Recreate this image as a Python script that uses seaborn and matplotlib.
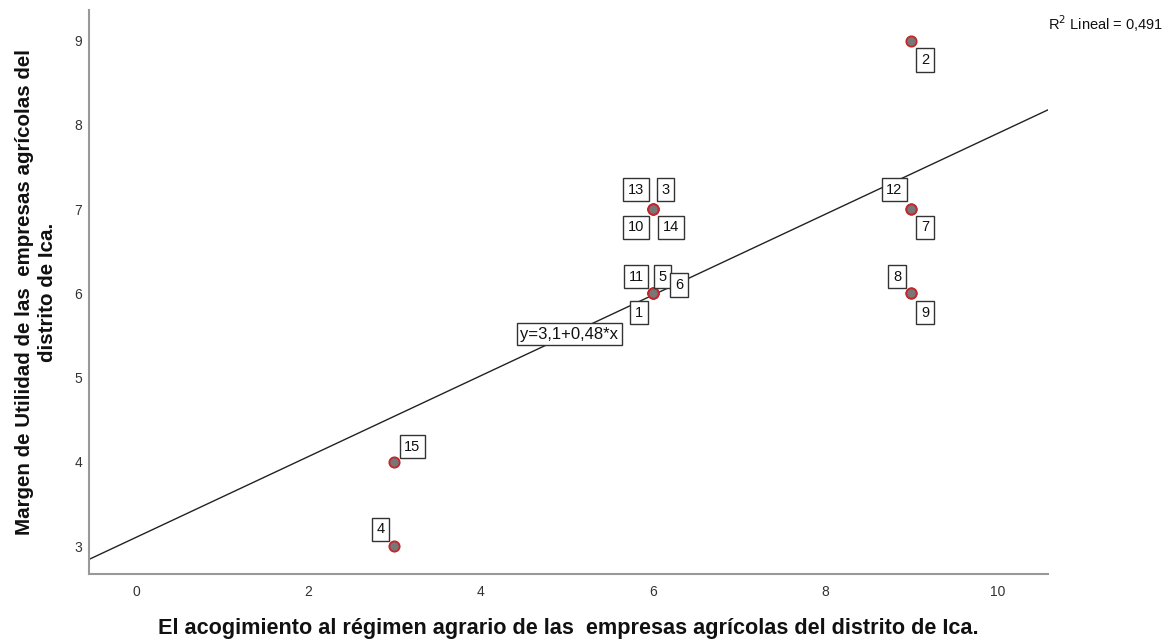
import numpy as np
import pandas as pd
import matplotlib
matplotlib.use("Agg")
import matplotlib.pyplot as plt
import seaborn as sns

# Case data: régimen agrario score (x) vs margen de utilidad (y)
case_ids = [1, 2, 3, 4, 5, 6, 7, 8, 9, 10, 11, 12, 13, 14, 15]
regimen = [6, 9, 6, 3, 6, 6, 9, 9, 9, 6, 6, 9, 6, 6, 3]
margen = [6, 9, 7, 3, 6, 6, 7, 6, 6, 7, 6, 7, 7, 7, 4]

x_ticks = [0, 2, 4, 6, 8, 10]
y_ticks = [3, 4, 5, 6, 7, 8, 9]

x_label = "El acogimiento al régimen agrario de las  empresas agrícolas del distrito de Ica."
y_label = "Margen de Utilidad de las  empresas agrícolas del\ndistrito de Ica."

df = pd.DataFrame({"caso": case_ids, "x": regimen, "y": margen})

sns.set_theme(style="white")
plt.rcParams["font.family"] = ["Liberation Sans", "DejaVu Sans"]

fig = plt.figure(figsize=(11.71, 6.42), dpi=100)
ax = fig.add_axes([0.076, 0.106, 0.819, 0.878])
ax.set_xlim(-0.546, 10.59)
ax.set_ylim(2.67, 9.36)

# Fit line spanning the whole axis
sns.regplot(data=df, x="x", y="y", scatter=False, ci=None, truncate=False,
            line_kws=dict(color="#222222", lw=1.0), ax=ax)

sns.scatterplot(data=df, x="x", y="y", s=55, color="#777777",
                edgecolor="#c0282d", linewidth=1.3, zorder=4, ax=ax)

box = dict(boxstyle="square,pad=0.32", fc="white", ec="#333333", lw=1.0)

# Case-number tags (offsets in points from each point)
offsets = {
    1: (-10, -14), 2: (10, -14), 3: (9, 14), 4: (-10, 12), 5: (7, 12),
    6: (19, 6), 7: (10, -13), 8: (-10, 12), 9: (10, -14), 10: (-12, -13),
    11: (-12, 12), 12: (-12, 14), 13: (-12, 14), 14: (13, -13), 15: (13, 11),
}
for cid, xv, yv in zip(case_ids, regimen, margen):
    dx, dy = offsets[cid]
    ax.annotate(str(cid), (xv, yv), xytext=(dx, dy), textcoords="offset points",
                ha="center", va="center", fontsize=10.5, color="#111111",
                zorder=5, bbox=box)

# Regression equation label on the line
slope, intercept = np.polyfit(regimen, margen, 1)
r2 = np.corrcoef(regimen, margen)[0, 1] ** 2
eq_x = 5.03
ax.text(eq_x, intercept + slope * eq_x,
        f"y={intercept:.1f}+{slope:.2f}*x".replace(".", ","),
        ha="center", va="center", fontsize=12, color="#111111", zorder=5,
        bbox=dict(boxstyle="square,pad=0.2", fc="white", ec="#333333", lw=1.0))

fig.text(0.993, 0.963, f"R$^2$ Lineal = {r2:.3f}".replace(".", ","),
         ha="right", va="center", fontsize=10.5, color="#111111")

ax.set_xticks(x_ticks)
ax.set_yticks(y_ticks)
ax.tick_params(axis="both", labelsize=10, labelcolor="#333333", length=0)
ax.tick_params(axis="x", pad=8)
ax.tick_params(axis="y", pad=5)
ax.set_xlabel(x_label, fontsize=15.6, fontweight="bold", color="#111111")
ax.set_ylabel(y_label, fontsize=14.8, fontweight="bold", color="#111111",
              linespacing=1.3)
ax.xaxis.set_label_coords(0.5, -0.078)
ax.yaxis.set_label_coords(-0.033, 0.5)

for side in ("top", "right"):
    ax.spines[side].set_visible(False)
for side in ("left", "bottom"):
    ax.spines[side].set_color("#999999")
    ax.spines[side].set_linewidth(1.5)

fig.savefig("out.png", dpi=100)
